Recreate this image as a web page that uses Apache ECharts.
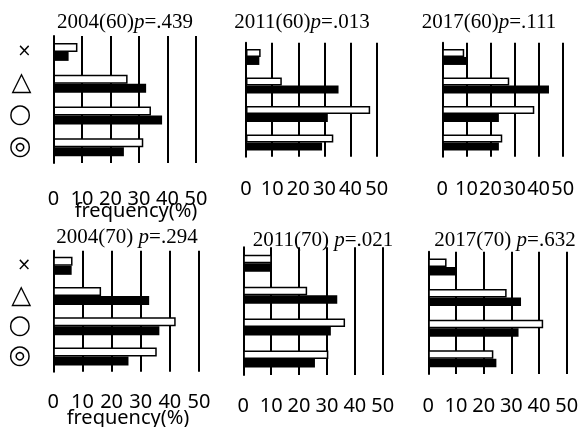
<!DOCTYPE html>
<html>
<head>
<meta charset="utf-8">
<script src="https://cdn.jsdelivr.net/npm/echarts@6/dist/echarts.min.js"></script>
<style>
  html, body { margin: 0; padding: 0; background: #fff; }
  #chart { width: 582px; height: 427px; }
</style>
</head>
<body>
<div id="chart"></div>
<script>
// Answer categories (top to bottom)
const categories = ['×', '△', '○', '◎'];
const xTicks = [0, 10, 20, 30, 40, 50];

// Panel headings: survey year (age group) and p value
const panelYears = ['2004(60)', '2011(60)', '2017(60)', '2004(70) ', '2011(70) ', '2017(70) '];
const panelP = ['=.439', '=.013', '=.111', '=.294', '=.021', '=.632'];

// Frequencies (%) per panel: open bars and filled bars
const open2004_60 = [8.4, 26.0, 34.2, 31.5];
const fill2004_60 = [5.3, 32.5, 38.1, 24.7];
const open2011_60 = [5.6, 13.7, 47.5, 33.4];
const fill2011_60 = [5.1, 35.4, 31.3, 29.1];
const open2017_60 = [9.1, 27.8, 38.2, 24.9];
const fill2017_60 = [10.1, 44.3, 23.5, 23.5];
const open2004_70 = [6.6, 16.4, 42.0, 35.5];
const fill2004_70 = [6.3, 32.9, 36.4, 25.8];
const open2011_70 = [10.2, 22.9, 36.5, 30.5];
const fill2011_70 = [10.0, 33.7, 31.4, 25.7];
const open2017_70 = [6.6, 28.3, 41.5, 23.5];
const fill2017_70 = [10.0, 33.5, 32.6, 24.6];

const openSets = [open2004_60, open2011_60, open2017_60, open2004_70, open2011_70, open2017_70];
const fillSets = [fill2004_60, fill2011_60, fill2017_60, fill2004_70, fill2011_70, fill2017_70];

// Layout of the six small panels
const layout = [
  { left: 53.5, right50: 196,   top: 36,    bottom: 163,   barW: 9,   labelMargin: 26, titleX: 125, titleY: 22 },
  { left: 246,  right50: 376.7, top: 42.7,  bottom: 156.7, barW: 8,   labelMargin: 23, titleX: 302, titleY: 22 },
  { left: 442.3,right50: 562.7, top: 42.7,  bottom: 156.7, barW: 8,   labelMargin: 23, titleX: 489, titleY: 22 },
  { left: 53.3, right50: 199,   top: 250.7, bottom: 371.7, barW: 9,   labelMargin: 21, titleX: 127, titleY: 237 },
  { left: 243.3,right50: 382.7, top: 247.3, bottom: 375,   barW: 8.5, labelMargin: 21, titleX: 323, titleY: 240 },
  { left: 428.3,right50: 566.7, top: 251.7, bottom: 374,   barW: 8.5, labelMargin: 22, titleX: 505, titleY: 240 }
];

const sansFont = 'Noto Sans';
const serifFont = 'Liberation Serif';

const grids = [], xAxes = [], yAxes = [], series = [], graphics = [];

layout.forEach((g, i) => {
  grids.push({ left: g.left, top: g.top, width: g.right50 - g.left, height: g.bottom - g.top });
  xAxes.push({
    gridIndex: i, type: 'value', min: 0, max: 50, interval: 10,
    axisLine: { show: false }, axisTick: { show: false },
    splitLine: { show: true, lineStyle: { color: '#000', width: 2 } },
    axisLabel: {
      margin: g.labelMargin, color: '#000', fontFamily: sansFont, fontSize: 20,
      formatter: v => xTicks.includes(v) ? String(v) : ''
    }
  });
  yAxes.push({
    gridIndex: i, type: 'category', data: categories, inverse: true,
    axisLine: { show: true, lineStyle: { color: '#000', width: 2 } },
    axisTick: { show: false },
    axisLabel: {
      show: i % 3 === 0, interval: 0, margin: 22, align: 'right', color: '#000',
      fontFamily: 'DejaVu Sans', fontSize: 26,
      formatter: v => v === '×' ? '{s|×}' : v,
      rich: { s: { fontFamily: 'DejaVu Sans', fontSize: 17, color: '#000' } }
    }
  });
  series.push({
    type: 'bar', xAxisIndex: i, yAxisIndex: i, data: openSets[i],
    barWidth: g.barW, barGap: '0%',
    itemStyle: { color: '#fff', borderColor: '#000', borderWidth: 1.5 }
  });
  series.push({
    type: 'bar', xAxisIndex: i, yAxisIndex: i, data: fillSets[i],
    barWidth: g.barW, barGap: '0%',
    itemStyle: { color: '#000' }
  });
  graphics.push({
    type: 'text', x: g.titleX, y: g.titleY,
    style: {
      text: '{n|' + panelYears[i] + '}{p|p}{n|' + panelP[i] + '}',
      align: 'center', verticalAlign: 'middle',
      rich: {
        n: { fontFamily: serifFont, fontSize: 21, fill: '#000' },
        p: { fontFamily: serifFont, fontSize: 21, fontStyle: 'italic', fill: '#000' }
      }
    }
  });
});

// Axis names under the left-hand panels
graphics.push({
  type: 'text', x: 136, y: 211,
  style: { text: 'frequency(%)', font: '20px "Noto Sans"', fill: '#000', align: 'center', verticalAlign: 'middle' }
});
graphics.push({
  type: 'text', x: 128, y: 418,
  style: { text: 'frequency(%)', font: '20px "Noto Sans"', fill: '#000', align: 'center', verticalAlign: 'middle' }
});

const chart = echarts.init(document.getElementById('chart'), null, { renderer: 'canvas' });
chart.setOption({
  animation: false,
  backgroundColor: '#fff',
  grid: grids,
  xAxis: xAxes,
  yAxis: yAxes,
  series: series,
  graphic: graphics
});
</script>
</body>
</html>
